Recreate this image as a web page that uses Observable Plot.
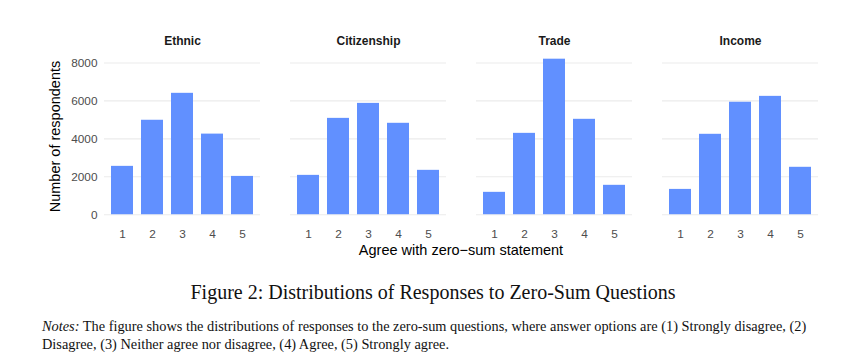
<!DOCTYPE html>
<html>
<head>
<meta charset="utf-8">
<script src="https://cdn.jsdelivr.net/npm/d3@7"></script>
<script src="https://cdn.jsdelivr.net/npm/@observablehq/plot@0.6"></script>
<style>
  body { margin: 0; background: white; }
  #chart svg { display: block; }
  #chart [aria-label^="y-axis"] text, #chart [aria-label^="x-axis"] text { fill: #4d4d4d; font-size: 11.8px; }
  #chart [aria-label^="fx-axis"] text { font-weight: bold; fill: #1a1a1a; font-size: 12px; }
  .caption { font-family: "Liberation Serif", "DejaVu Serif", serif; font-size: 20px; text-align: center; color: #111; margin-top: 15px; width: 866px; line-height: 24px; }
  .notes { font-family: "Liberation Serif", "DejaVu Serif", serif; font-size: 14.35px; color: #111; margin: 13px 0 0 42px; line-height: 18px; white-space: nowrap; }
</style>
</head>
<body>
<div id="chart"></div>
<script>
const categories = ["Ethnic", "Citizenship", "Trade", "Income"];
const responses = [1, 2, 3, 4, 5];
const ethnic = [2550, 4980, 6400, 4250, 2020];
const citizenship = [2075, 5080, 5870, 4820, 2340];
const trade = [1180, 4290, 8200, 5030, 1550];
const income = [1335, 4240, 5930, 6240, 2500];
const yTicks = [0, 2000, 4000, 6000, 8000];

const series = [ethnic, citizenship, trade, income];
const data = [];
categories.forEach((c, i) => responses.forEach((r, j) => data.push({question: c, response: r, count: series[i][j]})));

const chart = Plot.plot({
  width: 851, height: 265,
  marginLeft: 102, marginRight: 31, marginTop: 51, marginBottom: 43,
  style: {fontFamily: "'Liberation Sans', Arial, sans-serif", fontSize: "11.8px", background: "white", color: "#1a1a1a"},
  facet: {data, x: "question"},
  fx: {domain: categories, padding: 0.16, label: null, axis: "top", tickSize: 0, tickPadding: 7},
  x: {domain: responses, paddingInner: 0.27, paddingOuter: 0.2, label: null, tickSize: 0, tickPadding: 7},
  y: {domain: [-410, 8605], ticks: yTicks, label: null, tickSize: 0, tickPadding: 7, tickFormat: d => String(d)},
  marks: [
    Plot.ruleY(yTicks, {stroke: "#ebebeb", strokeWidth: 1.1}),
    Plot.barY(data, {x: "response", y: "count", fill: "#6190ff"})
  ]
});
document.getElementById("chart").appendChild(chart);

const svg = d3.select(chart);
svg.append("text")
  .attr("x", 461).attr("y", 255)
  .attr("text-anchor", "middle")
  .style("font-size", "14.5px").style("fill", "black")
  .text("Agree with zero\u2212sum statement");
svg.append("text")
  .attr("transform", "translate(59.5,136.5) rotate(-90)")
  .attr("text-anchor", "middle")
  .style("font-size", "14.5px").style("fill", "black")
  .text("Number of respondents");

const cap = document.createElement("div");
cap.className = "caption";
cap.textContent = "Figure 2: Distributions of Responses to Zero-Sum Questions";
document.body.appendChild(cap);
const notes = document.createElement("div");
notes.className = "notes";
notes.innerHTML = "<i>Notes:</i> The figure shows the distributions of responses to the zero-sum questions, where answer options are (1) Strongly disagree, (2)<br>Disagree, (3) Neither agree nor disagree, (4) Agree, (5) Strongly agree.";
document.body.appendChild(notes);
</script>
</body>
</html>
